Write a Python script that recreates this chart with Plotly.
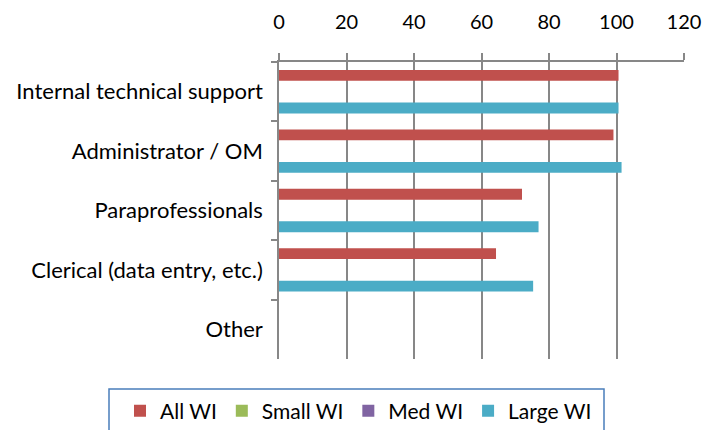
import plotly.graph_objects as go

categories = ["Internal technical support", "Administrator / OM", "Paraprofessionals",
              "Clerical (data entry, etc.)", "Other"]
series_names = ["All WI", "Small WI", "Med WI", "Large WI"]
all_wi = [100.6, 99.1, 72.0, 64.3, 0]
small_wi = [0, 0, 0, 0, 0]
med_wi = [0, 0, 0, 0, 0]
large_wi = [100.6, 101.5, 76.9, 75.3, 0]
x_ticks = [0, 20, 40, 60, 80, 100, 120]

colors = ["#C0504D", "#9BBB59", "#8064A2", "#4BACC6"]
FONT = "Lato"
GRID = "#878787"

fig = go.Figure()
for name, vals, c in zip(series_names, [all_wi, small_wi, med_wi, large_wi], colors):
    fig.add_trace(go.Bar(y=categories, x=vals, name=name, orientation="h",
                         marker=dict(color=c, line=dict(width=0))))

W, H = 721, 430
L, R, T, B = 279, 37, 62, 71
pw = W - L - R
ph = H - T - B

def px_x(p):
    return (p - L) / pw

def px_y(p):
    return (H - B - p) / ph

fig.update_layout(
    width=W, height=H,
    margin=dict(l=L, r=R, t=T, b=B, pad=0, autoexpand=False),
    paper_bgcolor="white", plot_bgcolor="white",
    barmode="group", bargap=0.27, bargroupgap=0,
    font=dict(family=FONT, size=20, color="black"),
    showlegend=True,
    legend=dict(orientation="h", x=px_x(120), xanchor="left",
                y=px_y(411), yanchor="middle",
                font=dict(family=FONT, size=21, color="black"),
                bgcolor="rgba(0,0,0,0)", borderwidth=0,
                traceorder="normal", itemclick=False),
    xaxis=dict(side="top", range=[0, 120], tickvals=x_ticks,
               showgrid=True, gridcolor=GRID, gridwidth=1.5,
               showline=True, linecolor=GRID, linewidth=1.5,
               ticks="outside", ticklen=7, tickcolor=GRID, tickwidth=1.5,
               ticklabelstandoff=16, zeroline=False,
               tickfont=dict(family=FONT, size=20, color="black")),
    yaxis=dict(categoryorder="array", categoryarray=categories,
               autorange="reversed", showgrid=False,
               showline=True, linecolor=GRID, linewidth=1.5,
               ticks="outside", ticklen=6, tickcolor=GRID, tickwidth=1.5,
               tickson="boundaries", ticklabelstandoff=10, zeroline=False,
               tickfont=dict(family=FONT, size=22, color="black")),
    shapes=[dict(type="rect", xref="paper", yref="paper",
                 x0=px_x(109), x1=px_x(604), y0=px_y(389), y1=px_y(445),
                 line=dict(color="#4A7EBB", width=1.5), fillcolor="rgba(0,0,0,0)",
                 layer="below")],
)

fig.write_html("out.html", config={"displayModeBar": False},
               post_script="document.body.style.margin='0';document.body.style.padding='0';")
